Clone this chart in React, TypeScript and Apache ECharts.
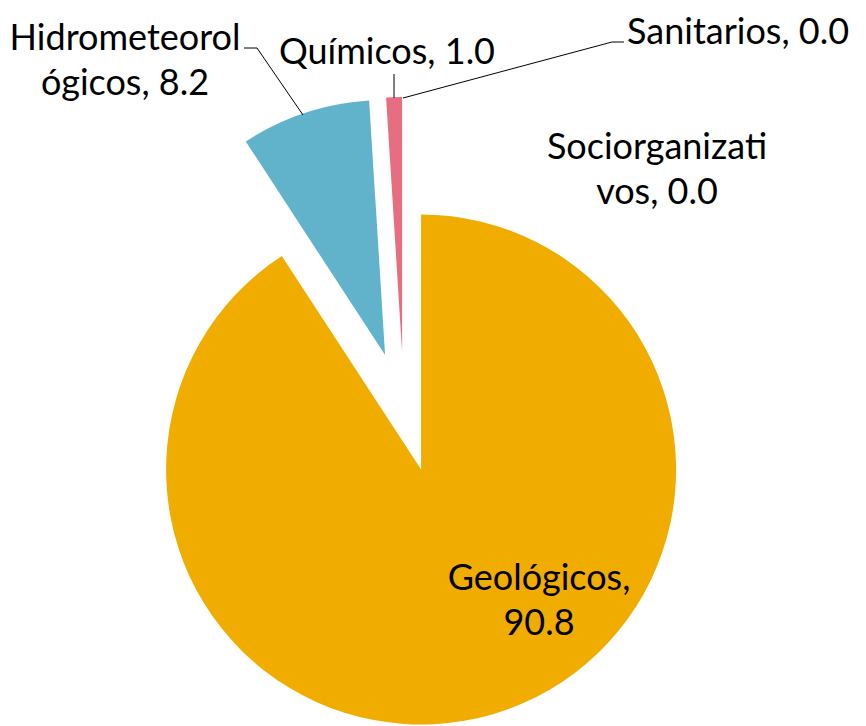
import React, { useEffect, useRef } from "react";
import * as echarts from "echarts";

const categories = ["Geológicos", "Hidrometeorológicos", "Químicos", "Sanitarios", "Sociorganizativos"];
const values = [90.8, 8.2, 1.0, 0.0, 0.0];
// where each category name wraps in its label (character index, -1 = no wrap, "after" = wrap after comma)
const labelBreaks = [-2, 13, -1, -1, 14];
const colors = ["#F0AD00", "#60B3CB", "#E66E80", "#F5B8A8", "#9BBB59"];

// label anchor positions (px) and leader lines
const labelPos: [number, number][] = [[539, 598], [125, 58], [387, 50], [627, 30], [657, 167]];
const labelAlign = ["center", "center", "center", "left", "center"];
const leaderLines: ([number, number][] | null)[] = [
  null,
  [[303, 115], [257, 48], [244, 48]],
  [[394, 98], [394, 86], [394, 74]],
  [[403, 98], [612, 42], [624, 42]],
  null,
];

function labelText(i: number): string {
  const name = categories[i];
  const v = values[i].toFixed(1);
  const b = labelBreaks[i];
  if (b === -2) return `${name},\n${v}`;
  if (b > 0) return `${name.slice(0, b)}\n${name.slice(b)}, ${v}`;
  return `${name}, ${v}`;
}

export default function App() {
  const ref = useRef<HTMLDivElement>(null);
  useEffect(() => {
    const chart = echarts.init(ref.current!, null, { renderer: "svg" });
    const graphics: any[] = [];
    categories.forEach((_, i) => {
      const pts = leaderLines[i];
      if (pts) {
        graphics.push({
          type: "polyline",
          shape: { points: pts },
          style: { stroke: "#000000", lineWidth: 1, fill: null },
          z: 10,
        });
      }
      graphics.push({
        type: "text",
        x: labelPos[i][0],
        y: labelPos[i][1],
        z: 10,
        style: {
          text: labelText(i),
          fontFamily: "Lato",
          fontSize: 36,
          lineHeight: 45,
          fill: "#000000",
          textAlign: labelAlign[i],
          textVerticalAlign: "middle",
        },
      });
    });
    chart.setOption({
      animation: false,
      backgroundColor: "#ffffff",
      graphic: graphics,
      series: [
        {
          type: "pie",
          center: [404, 412],
          radius: [0, 255],
          startAngle: 90,
          clockwise: true,
          avoidLabelOverlap: false,
          selectedMode: "multiple",
          selectedOffset: 60,
          emphasis: { disabled: true },
          label: { show: false },
          labelLine: { show: false },
          data: categories.map((name, i) => ({
            name,
            value: values[i],
            selected: true,
            itemStyle: { color: colors[i], borderWidth: 0 },
            select: { itemStyle: { color: colors[i], borderWidth: 0 } },
          })),
        },
      ],
    });
    return () => chart.dispose();
  }, []);
  return <div ref={ref} style={{ position: "absolute", left: 0, top: 0, width: 866, height: 726 }} />;
}
